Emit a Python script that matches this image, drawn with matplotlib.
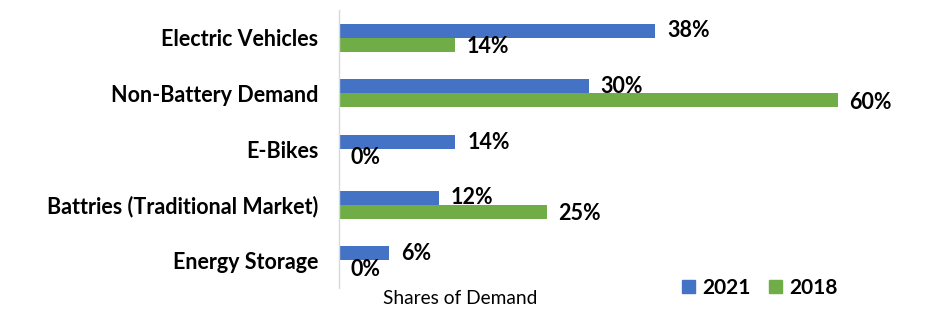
import matplotlib
matplotlib.use("Agg")
import matplotlib.pyplot as plt
from matplotlib.patches import Patch

categories = ["Electric Vehicles", "Non-Battery Demand", "E-Bikes",
              "Battries (Traditional Market)", "Energy Storage"]
values_2021 = [38, 30, 14, 12, 6]
values_2018 = [14, 60, 0, 25, 0]
series_names = ["2021", "2018"]
colors = ["#4472C4", "#70AD47"]

FONT = "Lato"
fig = plt.figure(figsize=(9.47, 3.24), dpi=100)
ax = fig.add_axes([339/947, 36/324, 499/947, 278/324])

n = len(categories)
ypos = [n - 1 - i for i in range(n)]
h = 0.25
yb = [y + h/2 for y in ypos]
yg = [y - h/2 for y in ypos]
ax.barh(yb, values_2021, height=h, color=colors[0])
ax.barh(yg, values_2018, height=h, color=colors[1])

for y, v in zip(yb, values_2021):
    ax.annotate(f"{v}%", (v, y), xytext=(12, 0), textcoords="offset pixels",
                ha="left", va="center", fontsize=15.5, fontweight="bold",
                family=FONT, color="black")
for y, v in zip(yg, values_2018):
    ax.annotate(f"{v}%", (v, y), xytext=(11, -2), textcoords="offset pixels",
                ha="left", va="center", fontsize=15.5, fontweight="bold",
                family=FONT, color="black")

ax.set_xlim(0, 60)
ax.set_ylim(-0.5, n - 0.5)
ax.set_yticks(ypos)
ax.set_yticklabels(categories, fontsize=15.5, fontweight="bold", family=FONT)
ax.tick_params(axis="y", length=0, pad=15)
ax.set_xticks([])
for s in ["top", "right", "bottom"]:
    ax.spines[s].set_visible(False)
ax.spines["left"].set_color("#D9D9D9")
ax.spines["left"].set_linewidth(1)
ax.patch.set_alpha(0)

fig.text(460/947, 1 - 298/324, "Shares of Demand", ha="center", va="center",
         fontsize=13.8, family=FONT)

handles = [Patch(color=colors[0]), Patch(color=colors[1])]
leg = fig.legend(handles, series_names, loc="center",
                 bbox_to_anchor=(760/947, 1 - 288/324), ncol=2, frameon=False,
                 handlelength=0.6, handleheight=0.6, handletextpad=0.35,
                 columnspacing=0.9, prop={"family": FONT, "weight": "bold", "size": 15})

fig.savefig("out.png", dpi=100)
